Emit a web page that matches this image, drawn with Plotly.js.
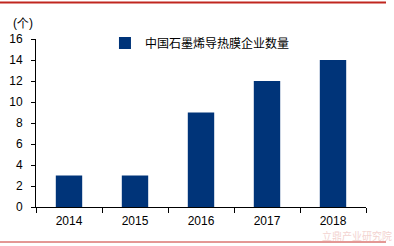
<!DOCTYPE html>
<html><head><meta charset="utf-8">
<script src="https://cdn.plot.ly/plotly-3.0.1.min.js"></script>
<style>html,body{margin:0;padding:0;background:#fff;}#chart{width:394px;height:246px;}</style>
</head><body><div id="chart"></div>
<script>
const years = ['2014','2015','2016','2017','2018'];
const counts = [3, 3, 9, 12, 14];
const seriesName = '中国石墨烯导热膜企业数量';
const yTicks = [0,2,4,6,8,10,12,14,16];

const trace = {
  type: 'bar', x: years, y: counts, name: seriesName,
  marker: {color: '#003479'}, showlegend: true
};
const layout = {
  width: 394, height: 246,
  margin: {l: 36, r: 28, t: 39, b: 39},
  paper_bgcolor: '#fff', plot_bgcolor: '#fff',
  bargap: 0.6,
  font: {family: 'Liberation Sans, Arial, sans-serif', size: 12, color: '#000'},
  xaxis: {
    type: 'category', showline: true, linecolor: '#000', linewidth: 1,
    ticks: 'outside', tickson: 'boundaries', ticklen: 5, tickcolor: '#000',
    showgrid: false, zeroline: false, tickfont: {size: 12}, ticklabelstandoff: 3
  },
  yaxis: {
    range: [0, 16], tickvals: yTicks, showline: true, linecolor: '#000', linewidth: 1,
    ticks: 'outside', ticklen: 4, tickcolor: '#000', showgrid: false, zeroline: false,
    tickfont: {size: 12}, ticklabelstandoff: 6
  },
  showlegend: true,
  legend: {x: 0.209, y: 0.976, xanchor: 'left', yanchor: 'middle', bgcolor: 'rgba(0,0,0,0)',
    font: {family: 'Noto Sans CJK SC, sans-serif', size: 12}, itemwidth: 30},
  shapes: [
    {type: 'line', xref: 'paper', yref: 'paper', x0: -36/330, x1: 350/330, y0: (246-2.5-39)/168, y1: (246-2.5-39)/168,
     line: {color: '#c0261f', width: 2}},
    {type: 'line', xref: 'paper', yref: 'paper', x0: -36/330, x1: 350/330, y0: -(242-207)/168, y1: -(242-207)/168,
     line: {color: '#c8302a', width: 1}}
  ],
  annotations: [
    {text: '(个)', xref: 'paper', yref: 'paper', x: -25/330, y: (207-23)/168, xanchor: 'left', yanchor: 'middle',
     showarrow: false, font: {size: 12}},
    {text: '立鼎产业研究院', xref: 'paper', yref: 'paper', x: 1.085, y: -(235.5-207)/168, xanchor: 'right', yanchor: 'middle',
     showarrow: false, font: {family: 'Noto Sans CJK SC, sans-serif', size: 10, color: '#f3d3d0'}}
  ]
};
Plotly.newPlot('chart', [trace], layout, {staticPlot: true, displayModeBar: false});
</script></body></html>
